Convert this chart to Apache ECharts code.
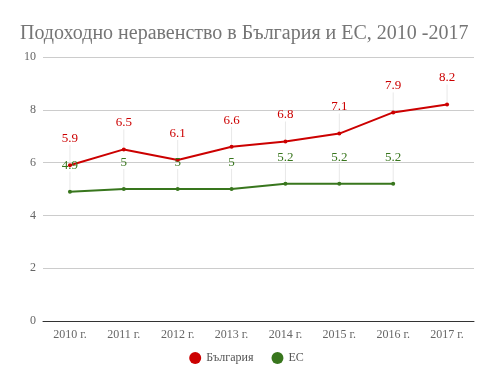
<!DOCTYPE html>
<html><head><meta charset="utf-8">
<script src="https://cdn.jsdelivr.net/npm/echarts@6/dist/echarts.min.js"></script>
<style>html,body{margin:0;padding:0;background:#fff}#c{width:493px;height:383px}</style>
</head><body><div id="c"></div>
<script>
const categories = ['2010 г.','2011 г.','2012 г.','2013 г.','2014 г.','2015 г.','2016 г.','2017 г.'];
const bulgaria = [5.9, 6.5, 6.1, 6.6, 6.8, 7.1, 7.9, 8.2];
const eu = [4.9, 5, 5, 5, 5.2, 5.2, 5.2, null];
const yTicks = [0, 2, 4, 6, 8, 10];

const font = '"Liberation Serif", "DejaVu Serif", serif';
const chart = echarts.init(document.getElementById('c'));
function mkSeries(name, data, color) {
  return {
    name, type: 'line', data,
    symbol: 'circle', symbolSize: 4,
    lineStyle: { width: 2, color },
    itemStyle: { color },
    label: { show: true, position: 'top', distance: 4, color, fontFamily: font, fontSize: 13 },
    labelLayout: { dy: -14 },
    labelLine: { show: true, lineStyle: { color: '#e8e8e8', width: 1 } },
    connectNulls: false
  };
}
chart.setOption({
  animation: false,
  title: {
    text: 'Подоходно неравенство в България и ЕС, 2010 -2017',
    left: 15, top: 19,
    textStyle: { fontFamily: font, fontSize: 20, fontWeight: 'normal', color: '#757575' }
  },
  legend: {
    bottom: 14, left: 'center', icon: 'circle', itemWidth: 12, itemHeight: 12, itemGap: 18,
    textStyle: { fontFamily: font, fontSize: 12, color: '#555' },
    data: ['България', 'ЕС']
  },
  grid: { left: 43, right: 19, top: 57, bottom: 62 },
  xAxis: {
    type: 'category', data: categories, boundaryGap: true,
    axisLine: { lineStyle: { color: '#333', width: 1 } },
    axisTick: { show: false },
    axisLabel: { fontFamily: font, fontSize: 12, color: '#666', margin: 8 }
  },
  yAxis: {
    type: 'value', min: yTicks[0], max: yTicks[yTicks.length-1], interval: 2,
    axisLine: { show: false }, axisTick: { show: false },
    axisLabel: { fontFamily: font, fontSize: 12, color: '#666', margin: 7 },
    splitLine: { lineStyle: { color: '#ccc' } }
  },
  series: [mkSeries('България', bulgaria, '#cc0000'), mkSeries('ЕС', eu, '#38761d')]
});
</script></body></html>
